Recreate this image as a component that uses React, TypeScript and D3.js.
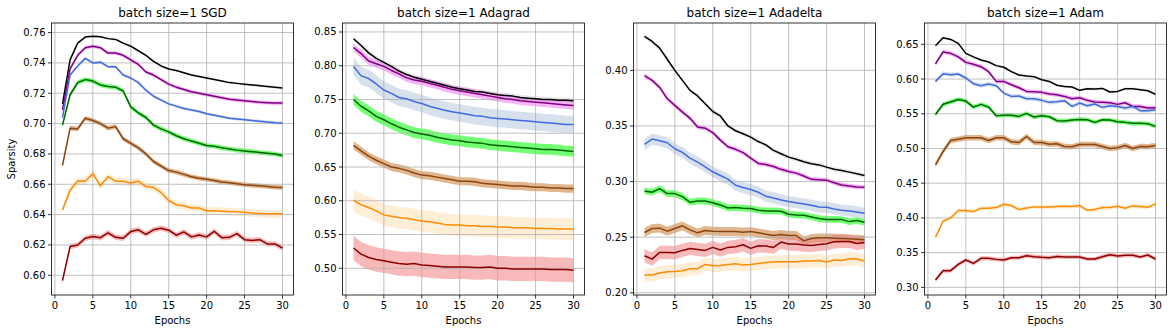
import React from "react";
import * as d3 from "d3";

// epochs on the x axis
const epochs = d3.range(1, 31);
const xTicks = [0, 5, 10, 15, 20, 25, 30];
const titles = ["batch size=1 SGD", "batch size=1 Adagrad", "batch size=1 Adadelta", "batch size=1 Adam"];

// ---- SGD ----
const sgdBlack = [0.713, 0.742, 0.753, 0.757, 0.7575, 0.7572, 0.756, 0.7555, 0.753, 0.751, 0.748, 0.745, 0.741, 0.738, 0.736, 0.735, 0.7335, 0.732, 0.731, 0.730, 0.729, 0.728, 0.727, 0.7265, 0.726, 0.7255, 0.725, 0.7245, 0.724, 0.7235];
const sgdMagenta = [0.709, 0.736, 0.745, 0.750, 0.751, 0.750, 0.7465, 0.7465, 0.745, 0.742, 0.739, 0.734, 0.732, 0.729, 0.726, 0.724, 0.7225, 0.721, 0.720, 0.719, 0.718, 0.717, 0.716, 0.7155, 0.715, 0.7145, 0.714, 0.7138, 0.7135, 0.7135];
const sgdBlue = [0.704, 0.732, 0.738, 0.743, 0.740, 0.7405, 0.7375, 0.7375, 0.732, 0.730, 0.727, 0.722, 0.718, 0.7155, 0.713, 0.7115, 0.710, 0.709, 0.708, 0.7065, 0.7055, 0.7045, 0.7035, 0.703, 0.7025, 0.702, 0.7015, 0.701, 0.7005, 0.7003];
const sgdGreen = [0.699, 0.719, 0.727, 0.729, 0.728, 0.7255, 0.7245, 0.724, 0.7215, 0.711, 0.707, 0.704, 0.699, 0.6965, 0.6945, 0.692, 0.690, 0.6885, 0.687, 0.6855, 0.685, 0.684, 0.6833, 0.6825, 0.682, 0.6815, 0.681, 0.6805, 0.680, 0.679];
const sgdBrown = [0.6725, 0.697, 0.6965, 0.7035, 0.702, 0.700, 0.697, 0.698, 0.690, 0.687, 0.684, 0.680, 0.675, 0.672, 0.669, 0.668, 0.6665, 0.665, 0.664, 0.6633, 0.6625, 0.6615, 0.661, 0.6603, 0.6597, 0.6593, 0.659, 0.6585, 0.658, 0.6578];
const sgdOrange = [0.643, 0.656, 0.6622, 0.662, 0.667, 0.659, 0.665, 0.662, 0.662, 0.6608, 0.662, 0.6585, 0.658, 0.6545, 0.6493, 0.6465, 0.6458, 0.6443, 0.6443, 0.6425, 0.6425, 0.6422, 0.642, 0.6418, 0.6415, 0.641, 0.6408, 0.6406, 0.6405, 0.6405];
const sgdRed = [0.5965, 0.619, 0.620, 0.6244, 0.6255, 0.6248, 0.628, 0.625, 0.6244, 0.6288, 0.630, 0.627, 0.630, 0.631, 0.6297, 0.6264, 0.6286, 0.6253, 0.6266, 0.6253, 0.629, 0.6248, 0.625, 0.6275, 0.6235, 0.623, 0.6235, 0.6207, 0.6207, 0.618];
const sgdStd = [0.0008, 0.0012, 0.001, 0.0015, 0.0015, 0.0025, 0.0018];

// ---- Adagrad ----
const adagradBlack = [0.840, 0.830, 0.819, 0.811, 0.805, 0.799, 0.792, 0.787, 0.783, 0.780, 0.777, 0.774, 0.771, 0.768, 0.766, 0.764, 0.762, 0.761, 0.759, 0.757, 0.756, 0.755, 0.753, 0.752, 0.751, 0.750, 0.750, 0.749, 0.749, 0.748];
const adagradMagenta = [0.827, 0.818, 0.807, 0.803, 0.799, 0.793, 0.788, 0.782, 0.779, 0.777, 0.774, 0.771, 0.768, 0.765, 0.763, 0.761, 0.759, 0.757, 0.755, 0.753, 0.751, 0.750, 0.748, 0.747, 0.746, 0.745, 0.744, 0.743, 0.742, 0.741];
const adagradBlue = [0.799, 0.785, 0.781, 0.773, 0.764, 0.759, 0.753, 0.751, 0.747, 0.744, 0.740, 0.737, 0.734, 0.732, 0.730, 0.728, 0.726, 0.725, 0.723, 0.722, 0.721, 0.720, 0.719, 0.718, 0.717, 0.716, 0.715, 0.714, 0.713, 0.713];
const adagradGreen = [0.750, 0.740, 0.733, 0.725, 0.720, 0.714, 0.709, 0.705, 0.701, 0.699, 0.697, 0.694, 0.692, 0.690, 0.689, 0.687, 0.686, 0.685, 0.683, 0.682, 0.681, 0.680, 0.679, 0.678, 0.677, 0.676, 0.676, 0.675, 0.674, 0.673];
const adagradBrown = [0.682, 0.674, 0.666, 0.660, 0.655, 0.650, 0.648, 0.645, 0.641, 0.638, 0.637, 0.635, 0.633, 0.631, 0.629, 0.629, 0.628, 0.626, 0.625, 0.624, 0.623, 0.622, 0.622, 0.621, 0.620, 0.620, 0.619, 0.619, 0.618, 0.618];
const adagradOrange = [0.601, 0.594, 0.590, 0.585, 0.579, 0.577, 0.575, 0.574, 0.572, 0.570, 0.569, 0.567, 0.565, 0.564, 0.564, 0.563, 0.563, 0.562, 0.562, 0.561, 0.561, 0.560, 0.560, 0.560, 0.559, 0.559, 0.559, 0.558, 0.558, 0.558];
const adagradRed = [0.530, 0.521, 0.516, 0.513, 0.511, 0.509, 0.507, 0.506, 0.507, 0.505, 0.504, 0.503, 0.502, 0.502, 0.502, 0.502, 0.501, 0.501, 0.502, 0.500, 0.500, 0.499, 0.499, 0.499, 0.499, 0.499, 0.498, 0.498, 0.498, 0.497];
const adagradStd = [0.004, 0.006, 0.013, 0.008, 0.006, 0.016, 0.018];

// ---- Adadelta ----
const adadeltaBlack = [0.4306, 0.426, 0.420, 0.410, 0.400, 0.391, 0.382, 0.377, 0.370, 0.363, 0.359, 0.350, 0.3457, 0.343, 0.340, 0.336, 0.333, 0.328, 0.325, 0.322, 0.320, 0.3178, 0.316, 0.315, 0.313, 0.311, 0.310, 0.3085, 0.307, 0.3055];
const adadeltaMagenta = [0.3952, 0.391, 0.3847, 0.3745, 0.3685, 0.3625, 0.357, 0.349, 0.348, 0.344, 0.3373, 0.3313, 0.329, 0.326, 0.3211, 0.3163, 0.3154, 0.3136, 0.311, 0.309, 0.3076, 0.305, 0.302, 0.3016, 0.3013, 0.299, 0.297, 0.296, 0.2952, 0.295];
const adadeltaBlue = [0.3334, 0.3382, 0.3367, 0.3349, 0.3295, 0.3262, 0.3211, 0.3175, 0.3133, 0.3088, 0.3055, 0.3022, 0.2967, 0.2946, 0.2928, 0.2904, 0.2868, 0.2853, 0.2835, 0.282, 0.281, 0.2799, 0.2787, 0.2772, 0.2769, 0.2754, 0.2742, 0.2736, 0.2727, 0.2715];
const adadeltaGreen = [0.2916, 0.2904, 0.2937, 0.2892, 0.2892, 0.2865, 0.2814, 0.2826, 0.2826, 0.281, 0.279, 0.2763, 0.2766, 0.276, 0.2757, 0.2742, 0.2736, 0.2736, 0.2733, 0.2706, 0.270, 0.2697, 0.2682, 0.2667, 0.266, 0.266, 0.2658, 0.264, 0.2649, 0.2634];
const adadeltaBrown = [0.2542, 0.2578, 0.2581, 0.2554, 0.2578, 0.2602, 0.2566, 0.2539, 0.256, 0.2554, 0.2551, 0.2551, 0.2551, 0.2545, 0.2551, 0.2539, 0.2527, 0.2515, 0.2524, 0.2515, 0.2515, 0.2467, 0.2488, 0.2494, 0.2494, 0.2491, 0.2488, 0.2485, 0.2482, 0.2476];
const adadeltaOrange = [0.2159, 0.2159, 0.2177, 0.2189, 0.2192, 0.2198, 0.2216, 0.2216, 0.2255, 0.2243, 0.2246, 0.2255, 0.2261, 0.2249, 0.2255, 0.2264, 0.2273, 0.2276, 0.2279, 0.2279, 0.2279, 0.2285, 0.2285, 0.2291, 0.2276, 0.2294, 0.2291, 0.2306, 0.2303, 0.2285];
const adadeltaRed = [0.2333, 0.2303, 0.2363, 0.2363, 0.236, 0.2381, 0.2399, 0.239, 0.2381, 0.2408, 0.2384, 0.2408, 0.2414, 0.2432, 0.2399, 0.2423, 0.242, 0.2408, 0.2456, 0.2438, 0.2438, 0.2429, 0.2426, 0.2435, 0.2441, 0.2459, 0.2462, 0.2462, 0.2444, 0.2453];
const adadeltaStd = [0.002, 0.002, 0.005, 0.003, 0.004, 0.006, 0.006];

// ---- Adam ----
const adamBlack = [0.648, 0.6596, 0.657, 0.6514, 0.637, 0.632, 0.6274, 0.6246, 0.6193, 0.617, 0.6106, 0.6058, 0.6044, 0.6034, 0.599, 0.5966, 0.591, 0.5894, 0.5885, 0.5837, 0.586, 0.5856, 0.5865, 0.5813, 0.5822, 0.586, 0.586, 0.5846, 0.5832, 0.578];
const adamMagenta = [0.6217, 0.639, 0.637, 0.632, 0.624, 0.6212, 0.6178, 0.6106, 0.5966, 0.5966, 0.5918, 0.5875, 0.5822, 0.5817, 0.5808, 0.5784, 0.5774, 0.575, 0.5717, 0.5731, 0.5693, 0.5669, 0.5664, 0.5659, 0.5635, 0.5659, 0.5606, 0.5606, 0.5582, 0.5587];
const adamBlue = [0.5966, 0.6077, 0.6063, 0.6072, 0.6015, 0.5933, 0.5904, 0.5928, 0.5904, 0.5798, 0.575, 0.5755, 0.5717, 0.5717, 0.5693, 0.5664, 0.5674, 0.5688, 0.5606, 0.5654, 0.5616, 0.564, 0.5592, 0.5616, 0.5606, 0.5582, 0.5606, 0.5544, 0.5544, 0.5558];
const adamGreen = [0.549, 0.5636, 0.567, 0.5706, 0.5683, 0.5596, 0.5635, 0.5596, 0.5471, 0.548, 0.548, 0.5462, 0.5505, 0.5452, 0.5471, 0.5457, 0.540, 0.5395, 0.541, 0.5419, 0.5414, 0.5376, 0.5414, 0.541, 0.5386, 0.5376, 0.5362, 0.5362, 0.5357, 0.5318];
const adamBrown = [0.4765, 0.4957, 0.5115, 0.5134, 0.5154, 0.5154, 0.5154, 0.5115, 0.5154, 0.5154, 0.5096, 0.5086, 0.5173, 0.5086, 0.5086, 0.5062, 0.5067, 0.5029, 0.5024, 0.5058, 0.5058, 0.5058, 0.5029, 0.500, 0.501, 0.5043, 0.500, 0.5029, 0.5024, 0.5043];
const adamOrange = [0.3722, 0.3952, 0.400, 0.4106, 0.4106, 0.4091, 0.4139, 0.4139, 0.4149, 0.4197, 0.4178, 0.412, 0.4144, 0.4159, 0.4159, 0.4159, 0.4163, 0.4168, 0.4163, 0.4178, 0.411, 0.412, 0.4149, 0.4149, 0.4168, 0.4139, 0.4173, 0.4163, 0.4154, 0.4202];
const adamRed = [0.3106, 0.324, 0.324, 0.3331, 0.3394, 0.3346, 0.3418, 0.3418, 0.3403, 0.3394, 0.3427, 0.3427, 0.3456, 0.3442, 0.3432, 0.3427, 0.3446, 0.3437, 0.3437, 0.3437, 0.3408, 0.3408, 0.3442, 0.3471, 0.3451, 0.3461, 0.3461, 0.3437, 0.3466, 0.3408];
const adamStd = [0.002, 0.003, 0.003, 0.003, 0.004, 0.003, 0.003];

// axis limits and ticks per panel
const yDomains = [[0.587, 0.7663], [0.4604, 0.8633], [0.198, 0.4426], [0.289, 0.6807]];
const yTickValues = [
  [0.6, 0.62, 0.64, 0.66, 0.68, 0.7, 0.72, 0.74, 0.76],
  [0.5, 0.55, 0.6, 0.65, 0.7, 0.75, 0.8, 0.85],
  [0.2, 0.25, 0.3, 0.35, 0.4],
  [0.3, 0.35, 0.4, 0.45, 0.5, 0.55, 0.6, 0.65],
];

const lineColors = ["black", "purple", "royalblue", "#006400", "saddlebrown", "darkorange", "darkred"];
const bandColors = ["lightgray", "violet", "lightsteelblue", "lime", "peru", "navajowhite", "lightcoral"];
const bandOpacity = [0.5, 0.6, 0.5, 0.55, 0.6, 0.5, 0.55];

const panelSeries = [
  [sgdBlack, sgdMagenta, sgdBlue, sgdGreen, sgdBrown, sgdOrange, sgdRed],
  [adagradBlack, adagradMagenta, adagradBlue, adagradGreen, adagradBrown, adagradOrange, adagradRed],
  [adadeltaBlack, adadeltaMagenta, adadeltaBlue, adadeltaGreen, adadeltaBrown, adadeltaOrange, adadeltaRed],
  [adamBlack, adamMagenta, adamBlue, adamGreen, adamBrown, adamOrange, adamRed],
];
const panelStd = [sgdStd, adagradStd, adadeltaStd, adamStd];

const width = 1173;
const height = 333;
const panelLefts = [51.5, 342.5, 633.5, 924.5];
const panelWidth = 242;
const top = 23;
const bottom = 295;
const font = "DejaVu Sans, sans-serif";
const fmt = d3.format(".2f");

function Panel({ idx }: { idx: number }) {
  const left = panelLefts[idx];
  const x = d3.scaleLinear().domain([-0.45, 31.45]).range([left, left + panelWidth]);
  const y = d3.scaleLinear().domain(yDomains[idx]).range([bottom, top]);
  const series = panelSeries[idx];
  const stds = panelStd[idx];
  const clipId = `clip${idx}`;

  const line = d3
    .line<number>()
    .x((_, i) => x(epochs[i]))
    .y((v) => y(v));

  return (
    <g>
      <clipPath id={clipId}>
        <rect x={left} y={top} width={panelWidth} height={bottom - top} />
      </clipPath>
      <g clipPath={`url(#${clipId})`}>
        {series.map((vals, s) => {
          const area = d3
            .area<number>()
            .x((_, i) => x(epochs[i]))
            .y0((v) => y(v - stds[s]))
            .y1((v) => y(v + stds[s]));
          return (
            <path key={"b" + s} d={area(vals) || ""} fill={bandColors[s]} fillOpacity={bandOpacity[s]} stroke="none" />
          );
        })}
        {xTicks.map((t) => (
          <line key={"gx" + t} x1={x(t)} x2={x(t)} y1={top} y2={bottom} stroke="#b0b0b0" strokeWidth={0.8} />
        ))}
        {yTickValues[idx].map((t) => (
          <line key={"gy" + t} x1={left} x2={left + panelWidth} y1={y(t)} y2={y(t)} stroke="#b0b0b0" strokeWidth={0.8} />
        ))}
        {series.map((vals, s) => (
          <path key={"l" + s} d={line(vals) || ""} fill="none" stroke={lineColors[s]} strokeWidth={1.5} strokeLinejoin="round" />
        ))}
      </g>
      <rect x={left} y={top} width={panelWidth} height={bottom - top} fill="none" stroke="black" strokeWidth={0.8} />
      {xTicks.map((t) => (
        <g key={"tx" + t}>
          <line x1={x(t)} x2={x(t)} y1={bottom} y2={bottom + 3.5} stroke="black" strokeWidth={0.8} />
          <text x={x(t)} y={bottom + 14} textAnchor="middle" fontSize={10} fontFamily={font} fill="black">
            {t}
          </text>
        </g>
      ))}
      {yTickValues[idx].map((t) => (
        <g key={"ty" + t}>
          <line x1={left - 3.5} x2={left} y1={y(t)} y2={y(t)} stroke="black" strokeWidth={0.8} />
          <text x={left - 6} y={y(t)} dy="0.35em" textAnchor="end" fontSize={10} fontFamily={font} fill="black">
            {fmt(t)}
          </text>
        </g>
      ))}
      <text x={left + panelWidth / 2} y={top - 6} textAnchor="middle" fontSize={12} fontFamily={font} fill="black">
        {titles[idx]}
      </text>
      <text x={left + panelWidth / 2} y={bottom + 29} textAnchor="middle" fontSize={10} fontFamily={font} fill="black">
        Epochs
      </text>
      {idx === 0 && (
        <text
          transform={`translate(15, ${(top + bottom) / 2}) rotate(-90)`}
          textAnchor="middle"
          fontSize={10}
          fontFamily={font}
          fill="black"
        >
          Sparsity
        </text>
      )}
    </g>
  );
}

export default function App() {
  return (
    <svg
      width={width}
      height={height}
      style={{ position: "absolute", left: 0, top: 0, background: "white" }}
    >
      {panelLefts.map((_, i) => (
        <Panel key={i} idx={i} />
      ))}
    </svg>
  );
}
